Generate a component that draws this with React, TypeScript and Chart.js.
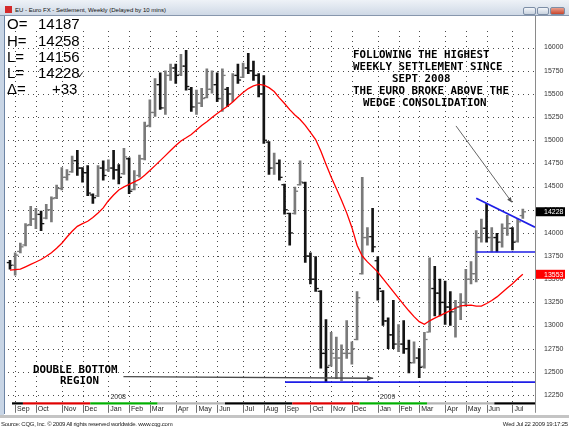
import React, { useEffect, useRef } from 'react';
import { Chart, registerables } from 'chart.js';

Chart.register(...registerables);

// ---- weekly OHLC (index 0 = week of Aug 27 2007, 99 = week of Jul 20 2009)
const highs = [
  13704, 13785, 13890, 14100, 14286, 14265, 14234, 14307, 14390, 14516,
  14704, 14683, 14830, 14892, 14704, 14725, 14422, 14725, 14777, 14788,
  14892, 14736, 14913, 14809, 14673, 14840, 15195, 15436, 15666, 15728,
  15750, 15822, 15822, 15927, 15969, 15571, 15540, 15561, 15770, 15750,
  15728, 15770, 15571, 15718, 15822, 15833, 15937, 15854, 15718, 15697,
  14986, 14861, 14788, 14527, 14213, 14495, 14777, 14548, 13785, 13743,
  13377, 13063, 12928, 12875, 12792, 13053, 12823, 13367, 14600, 14056,
  14265, 13743, 13377, 13084, 13273, 13011, 13053, 12844, 12823, 12750,
  12928, 13732, 13638, 13502, 13481, 13367, 13273, 13346, 13607, 13691,
  14025, 14150, 14317, 14056, 13994, 14098, 14190, 14056, 14150, 14258,
];
const lows = [
  13607, 13544, 13785, 13858, 14077, 14046, 14025, 14150, 14119, 14370,
  14464, 14568, 14652, 14620, 14547, 14401, 14317, 14390, 14568, 14662,
  14579, 14527, 14631, 14422, 14464, 14600, 14788, 15143, 15258, 15331,
  15279, 15645, 15613, 15697, 15540, 15310, 15279, 15362, 15456, 15509,
  15415, 15310, 15362, 15415, 15613, 15676, 15718, 15645, 15467, 14965,
  14631, 14631, 14568, 14203, 13868, 14203, 14516, 13680, 13450, 13367,
  12541, 12384, 12562, 12426, 12405, 12645, 12583, 12844, 13555, 13868,
  13795, 13273, 13001, 12750, 12750, 12719, 12698, 12489, 12593, 12437,
  12541, 12928, 13105, 13105, 13011, 13001, 12875, 13063, 13210, 13450,
  13471, 13900, 13900, 13795, 13795, 13847, 13973, 13816, 13900, 14156,
];
const opens = [
  13680, 13650, 13800, 13870, 14090, 14150, 14200, 14160, 14250, 14380,
  14480, 14600, 14660, 14780, 14700, 14650, 14410, 14400, 14700, 14680,
  14700, 14680, 14640, 14800, 14470, 14620, 14800, 15160, 15300, 15600,
  15350, 15700, 15780, 15710, 15800, 15550, 15360, 15400, 15460, 15550,
  15600, 15450, 15550, 15500, 15700, 15680, 15780, 15750, 15700, 15500,
  14980, 14700, 14750, 14520, 14210, 14210, 14520, 14540, 13750, 13500,
  13370, 12700, 12570, 12650, 12650, 12700, 12700, 12850, 13560, 13950,
  13960, 13700, 13370, 13050, 12900, 12800, 12800, 12750, 12600, 12650,
  12560, 12930, 13400, 13350, 13250, 13200, 13150, 13200, 13250, 13500,
  13560, 13950, 14050, 13950, 13950, 13900, 14050, 14050, 13910, 14187,
];
const closes = [
  13650, 13760, 13850, 14080, 14150, 14200, 14100, 14250, 14370, 14480,
  14600, 14630, 14780, 14700, 14650, 14430, 14380, 14700, 14620, 14700,
  14680, 14600, 14820, 14450, 14520, 14800, 15150, 15300, 15600, 15350,
  15700, 15780, 15700, 15800, 15580, 15360, 15400, 15450, 15550, 15600,
  15450, 15700, 15500, 15700, 15650, 15780, 15750, 15700, 15500, 15000,
  14700, 14750, 14600, 14250, 14000, 14450, 14550, 13750, 13500, 13400,
  12700, 12550, 12700, 12650, 12700, 12700, 12750, 13300, 13950, 13960,
  13850, 13400, 13050, 12900, 12800, 12800, 12750, 12600, 12650, 12550,
  12850, 13400, 13350, 13250, 13200, 13150, 13200, 13250, 13500, 13560,
  13950, 14050, 13950, 13950, 13900, 14050, 14100, 13900, 14120, 14228,
];
const movingAverage = [
  13598, 13603, 13608, 13634, 13660, 13686, 13713, 13747, 13786, 13834,
  13888, 13955, 14018, 14071, 14099, 14125, 14166, 14215, 14269, 14347,
  14408, 14463, 14496, 14523, 14550, 14577, 14623, 14673, 14726, 14780,
  14834, 14889, 14943, 14992, 15026, 15062, 15110, 15158, 15200, 15244,
  15288, 15329, 15366, 15412, 15466, 15515, 15557, 15586, 15602, 15595,
  15567, 15526, 15457, 15396, 15330, 15273, 15224, 15161, 15084, 15007,
  14884, 14741, 14603, 14480, 14352, 14216, 14059, 13867, 13750, 13687,
  13633, 13577, 13506, 13437, 13366, 13295, 13226, 13159, 13096, 13042,
  13013, 13051, 13080, 13107, 13134, 13160, 13187, 13212, 13217, 13220,
  13209, 13209, 13238, 13270, 13309, 13357, 13405, 13451, 13504, 13553,
];

// ---- axes
const monthTickIdx = [1, 5, 10, 14, 19, 23, 27, 32, 36, 40, 45, 49, 53, 58, 62, 66, 71, 75, 79, 84, 88, 92, 97];
const monthLabels = ['Sep', 'Oct', 'Nov', 'Dec', 'Jan', 'Feb', 'Mar', 'Apr', 'May', 'Jun', 'Jul', 'Aug', 'Sep', 'Oct', 'Nov', 'Dec', 'Jan', 'Feb', 'Mar', 'Apr', 'May', 'Jun', 'Jul'];
const yearTickIdx = [19, 71];
const yearLabels = ['2008', '2009'];
const priceTicks = [12250, 12500, 12750, 13000, 13250, 13500, 13750, 14000, 14250, 14500, 14750, 15000, 15250, 15500, 15750, 16000];
const contractBounds = [-0.77, 2.5, 15.5, 28.5, 41.5, 54.5, 67.5, 80.5, 93.5, 101.35];
const contractColors = ['#000000', '#e00000', '#00b000', '#b4b4b4', '#000000', '#e00000', '#00b000', '#b4b4b4', '#000000'];

// ---- texts and annotations
const ohlcNames = ['O=', 'H=', 'L=', 'L=', 'Δ='];
const ohlcValues = ['14187', '14258', '14156', '14228', '+33'];
const noteLines = ['FOLLOWING THE HIGHEST', 'WEEKLY SETTLEMENT SINCE', 'SEPT 2008', 'THE EURO BROKE ABOVE THE', 'WEDGE CONSOLIDATION'];
const bottomLines = ['DOUBLE BOTTOM', 'REGION'];
const wedgeTop = [{ x: 90, y: 14374 }, { x: 101.35, y: 14060 }];
const wedgeBase = [{ x: 90, y: 13793 }, { x: 101.35, y: 13793 }];
const doubleBottom = [{ x: 53.1, y: 12389 }, { x: 101.35, y: 12389 }];
const bottomArrow = [{ x: 21.9, y: 12449 }, { x: 70.1, y: 12431 }];
const noteArrow = [{ x: 86.1, y: 15154 }, { x: 96.9, y: 14329 }];
const lastPrice = 14228;
const lastAverage = 13553;

const X_MIN = -0.77;
const X_MAX = 101.35;
const Y_MIN = 12177;
const Y_MAX = 16198;
const TOP = 16; // canvas offset in page
const SANS = '"Liberation Sans", Arial, sans-serif';
const MONO = '"DejaVu Sans Mono", "Liberation Mono", monospace';

export default function App() {
  const ref = useRef<HTMLCanvasElement>(null);

  useEffect(() => {
    document.body.style.margin = '0';
    const canvas = ref.current as HTMLCanvasElement;
    const barColor = (i: number) => (closes[i] >= opens[i] ? '#7a7a7a' : '#141414');

    const seg = (ctx: any, x: any, y: any, pts: any[], color: string, w: number, arrow: number) => {
      const x1 = x.getPixelForValue(pts[0].x), y1 = y.getPixelForValue(pts[0].y);
      const x2 = x.getPixelForValue(pts[1].x), y2 = y.getPixelForValue(pts[1].y);
      ctx.strokeStyle = color;
      ctx.lineWidth = w;
      ctx.beginPath();
      ctx.moveTo(x1, y1);
      ctx.lineTo(x2, y2);
      ctx.stroke();
      if (arrow > 0) {
        const a = Math.atan2(y2 - y1, x2 - x1);
        ctx.fillStyle = color;
        ctx.beginPath();
        ctx.moveTo(x2, y2);
        ctx.lineTo(x2 - arrow * Math.cos(a) + arrow * 0.45 * Math.sin(a), y2 - arrow * Math.sin(a) - arrow * 0.45 * Math.cos(a));
        ctx.lineTo(x2 - arrow * Math.cos(a) - arrow * 0.45 * Math.sin(a), y2 - arrow * Math.sin(a) + arrow * 0.45 * Math.cos(a));
        ctx.closePath();
        ctx.fill();
      }
    };

    const overlay = {
      id: 'overlay',
      afterDatasetsDraw(chart: any) {
        const { ctx, chartArea: ca, scales } = chart;
        const x = scales.x, y = scales.y;
        ctx.save();
        ctx.beginPath();
        ctx.rect(ca.left, ca.top, ca.right - ca.left, ca.bottom - ca.top);
        ctx.clip();
        for (let i = 0; i < highs.length; i++) {
          const px = x.getPixelForValue(i);
          ctx.fillStyle = barColor(i);
          ctx.fillRect(px - 3.2, y.getPixelForValue(opens[i]) - 0.6, 2.4, 1.3);
          ctx.fillRect(px + 0.8, y.getPixelForValue(closes[i]) - 0.6, 2.4, 1.3);
        }
        seg(ctx, x, y, wedgeTop, '#1e1ee6', 1.8, 0);
        seg(ctx, x, y, wedgeBase, '#1e1ee6', 1.4, 0);
        seg(ctx, x, y, doubleBottom, '#1e1ee6', 1.8, 0);
        seg(ctx, x, y, bottomArrow, '#4a4a4a', 1.4, 6);
        seg(ctx, x, y, noteArrow, '#555555', 0.9, 5);
        ctx.restore();
      },
      afterDraw(chart: any) {
        const { ctx, chartArea: ca, scales } = chart;
        const x = scales.x, y = scales.y;
        ctx.save();
        // dotted grid
        ctx.globalCompositeOperation = 'destination-over';
        ctx.fillStyle = '#4a4a4a';
        priceTicks.forEach((v) => {
          const py = Math.round(y.getPixelForValue(v));
          for (let px = Math.round(ca.left) + 2; px < ca.right; px += 5) ctx.fillRect(px, py, 1, 1);
        });
        monthTickIdx.forEach((v) => {
          const px = Math.round(x.getPixelForValue(v));
          for (let py = Math.round(ca.top) + 2; py < ca.bottom; py += 5) ctx.fillRect(px, py, 1, 1);
        });
        ctx.globalCompositeOperation = 'source-over';
        // contract strip under the plot
        for (let k = 0; k < contractColors.length; k++) {
          const a = Math.max(ca.left + 6, x.getPixelForValue(contractBounds[k]));
          const b = Math.min(ca.right, x.getPixelForValue(contractBounds[k + 1]));
          ctx.fillStyle = contractColors[k];
          ctx.fillRect(a, ca.bottom + 0.5, b - a, 2.2);
        }
        // month separators
        ctx.strokeStyle = '#707070';
        ctx.lineWidth = 1;
        monthTickIdx.forEach((v) => {
          const px = Math.round(x.getPixelForValue(v)) + 0.5;
          ctx.beginPath();
          ctx.moveTo(px, ca.bottom + 3);
          ctx.lineTo(px, ca.bottom + 11);
          ctx.stroke();
        });
        // right border of the plot
        ctx.strokeStyle = '#8a8a8a';
        ctx.beginPath();
        ctx.moveTo(ca.right + 0.5, 0);
        ctx.lineTo(ca.right + 0.5, ca.bottom + 11);
        ctx.stroke();
        // year labels
        ctx.fillStyle = '#333';
        ctx.font = '7px ' + SANS;
        ctx.textBaseline = 'middle';
        ctx.textAlign = 'left';
        yearTickIdx.forEach((v, k) => {
          ctx.fillText(yearLabels[k], x.getPixelForValue(v) + 2, ca.bottom - 5);
        });
        // price boxes
        const box = (val: number, bg: string) => {
          const py = y.getPixelForValue(val);
          ctx.fillStyle = bg;
          ctx.fillRect(ca.right + 1, py - 4.5, 29, 9);
          ctx.fillStyle = '#ffffff';
          ctx.font = '7px ' + SANS;
          ctx.fillText(String(val), ca.right + 9, py + 0.5);
        };
        box(lastPrice, '#000000');
        box(lastAverage, '#ff0000');
        // OHLC readout
        ctx.fillStyle = '#000';
        ctx.font = '15px ' + SANS;
        const rows = [24.3, 41, 57, 73.3, 89.3];
        ohlcNames.forEach((n, k) => {
          const ry = rows[k] - TOP + 0.5;
          ctx.fillText(n, 7, ry);
          ctx.fillText(ohlcValues[k], k === 4 ? 52 : 38, ry);
        });
        ctx.font = '9px "DejaVu Sans", sans-serif';
        ctx.fillText('\u2713', 77, rows[3] - TOP + 2);
        // annotations
        ctx.font = 'bold 10.8px ' + MONO;
        const noteX = [353, 353, 392, 353, 363];
        const noteY = [55, 67, 79, 91, 103];
        noteLines.forEach((t, k) => ctx.fillText(t, noteX[k], noteY[k] - TOP));
        const botX = [33, 60];
        const botY = [370, 381];
        bottomLines.forEach((t, k) => ctx.fillText(t, botX[k], botY[k] - TOP));
        ctx.restore();
      },
    };

    const chart = new Chart(canvas, {
      type: 'bar',
      data: {
        datasets: [
          {
            type: 'line',
            data: movingAverage.map((v, i) => ({ x: i, y: v })),
            borderColor: '#ff0000',
            borderWidth: 1.3,
            pointRadius: 0,
            fill: false,
            order: 0,
          } as any,
          {
            type: 'bar',
            data: highs.map((h, i) => ({ x: i, y: [lows[i], h] })),
            backgroundColor: highs.map((_, i) => barColor(i)),
            barThickness: 2,
            borderWidth: 0,
            grouped: false,
            order: 1,
          } as any,
        ],
      },
      options: {
        responsive: false,
        animation: false,
        devicePixelRatio: 1,
        layout: { padding: { left: 6, top: 1, right: 0, bottom: 0 } },
        plugins: { legend: { display: false }, tooltip: { enabled: false } },
        scales: {
          x: {
            type: 'linear',
            min: X_MIN,
            max: X_MAX,
            offset: false,
            afterBuildTicks: (s: any) => {
              s.ticks = monthTickIdx.map((v) => ({ value: v }));
            },
            afterFit: (s: any) => {
              s.height = 13;
            },
            grid: { display: false, offset: false, drawTicks: false },
            border: { display: false },
            ticks: {
              autoSkip: false,
              maxRotation: 0,
              align: 'start',
              padding: 3,
              color: '#222',
              font: { size: 7, family: SANS },
              callback: (_v: any, idx: number) => ' ' + monthLabels[idx],
            },
          } as any,
          y: {
            type: 'linear',
            position: 'right',
            min: Y_MIN,
            max: Y_MAX,
            afterBuildTicks: (s: any) => {
              s.ticks = priceTicks.map((v) => ({ value: v }));
            },
            afterFit: (s: any) => {
              s.width = 30;
            },
            grid: { display: false, drawTicks: false },
            border: { display: false },
            ticks: {
              padding: 9,
              color: '#333',
              font: { size: 7, family: SANS },
              callback: (v: any) => String(v),
            },
          } as any,
        },
      },
      plugins: [overlay],
    });
    return () => chart.destroy();
  }, []);

  const btn = (left: number, w: number, bg: string) => (
    <div
      style={{
        position: 'absolute', left, top: 7, width: w, height: 8, boxSizing: 'border-box',
        border: '1px solid #7d8ea6', borderRadius: 2, background: bg,
      }}
    />
  );

  return (
    <div style={{ position: 'fixed', left: 0, top: 0, width: 569, height: 429, background: '#fff', overflow: 'hidden', fontFamily: SANS }}>
      <canvas ref={ref} width={565} height={399} style={{ position: 'absolute', left: 0, top: TOP, width: 565, height: 399 }} />
      <div style={{ position: 'absolute', left: 0, top: 0, width: 569, height: 16, boxSizing: 'border-box', background: 'linear-gradient(#eef2f7, #cfd9e6)', borderBottom: '1px solid #8797ad' }}>
        <div style={{ position: 'absolute', left: 5, top: 6, width: 7, height: 7, background: '#d42a2a' }} />
        <div style={{ position: 'absolute', left: 15, top: 6, fontSize: 6, lineHeight: '8px', color: '#111', whiteSpace: 'nowrap' }}>
          EU - Euro FX - Settlement, Weekly (Delayed by 10 mins)
        </div>
        {btn(523, 13, 'linear-gradient(#f2f5f9, #c9d3df)')}
        {btn(537, 12, 'linear-gradient(#f2f5f9, #c9d3df)')}
        {btn(550, 15, 'linear-gradient(#e9a08f, #c8462d)')}
      </div>
      <div style={{ position: 'absolute', left: 0, top: 16, width: 4, height: 400, background: '#c8d5e5' }} />
      <div style={{ position: 'absolute', left: 4, top: 16, width: 1, height: 398, background: '#6d84a4' }} />
      <div style={{ position: 'absolute', left: 0, top: 415, width: 569, height: 3, background: '#c4c4c4' }} />
      <div style={{ position: 'absolute', left: 1, top: 420, fontSize: 6, lineHeight: '8px', letterSpacing: '-0.25px', color: '#222', whiteSpace: 'nowrap' }}>
        Source: CQG, Inc. © 2009 All rights reserved worldwide. www.cqg.com
      </div>
      <div style={{ position: 'absolute', right: 1, top: 420, fontSize: 6, lineHeight: '8px', letterSpacing: '-0.2px', color: '#222', whiteSpace: 'nowrap' }}>
        Wed Jul 22 2009 19:17:25
      </div>
    </div>
  );
}
